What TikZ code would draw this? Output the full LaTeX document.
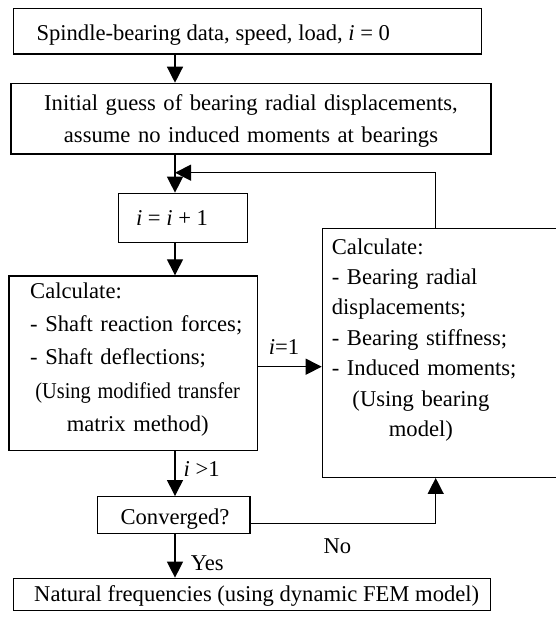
\documentclass[tikz,border=0pt]{standalone}
\usepackage{fontspec}
\usepackage{graphicx}
\setmainfont{Liberation Serif}
\usetikzlibrary{arrows.meta}
\begin{document}
\begin{tikzpicture}[x=1pt,y=-1pt,
  box/.style={draw,line width=1.3pt,inner sep=0pt},
  txt/.style={inner sep=0pt,anchor=base,font=\fontsize{22.6}{31.5}\selectfont},
  arr/.style={line width=1.3pt,-{Triangle[length=16pt,width=16pt]}}]
\useasboundingbox (0,0) rectangle (555,622);
\coordinate (spine) at (175,0);
\coordinate (fbx) at (435.7,172.7);
\coordinate (join) at (175,172.7);
\coordinate (iy) at (0,366.7);
\coordinate (noy) at (0,523.3);
% boxes
\node[box,minimum width=468.4pt,minimum height=45.7pt] (b1) at (247.5,31.2) {};
\node[txt] (t1) at (213.3,40) {Spindle-bearing data, speed, load, \textit{i} = 0};
\node[box,minimum width=480pt,minimum height=70.7pt] (b2) at (251,118.7) {};
\node[txt,text width=480pt,align=center] (t2) at (251,110.5) {Initial guess of bearing radial displacements,\\assume no induced moments at bearings};
\node[box,minimum width=129pt,minimum height=49pt] (b3) at (182.8,217.8) {};
\node[txt] (t3) at (172,225) {\textit{i} = \textit{i} + 1};
\node[box,minimum width=248.3pt,minimum height=174.7pt] (b4) at (133.2,363.3) {};
\node[txt,anchor=base west,text width=215pt,font=\fontsize{22.6}{33.3}\selectfont] (t4) at (30,298.3) {\raggedright Calculate:\\\mbox{- Shaft reaction forces;}\\\mbox{- Shaft deflections;}\par\centering\scalebox{0.9}[1]{(Using modified transfer}\\matrix method)\par};
\node[box,minimum width=237.7pt,minimum height=249pt] (rb) at (441.2,352.8) {};
\node[txt,anchor=base west,text width=178pt,font=\fontsize{22.6}{30.4}\selectfont] (t5) at (331.7,254) {\raggedright Calculate:\\\mbox{- Bearing radial}\\displacements;\\\mbox{- Bearing stiffness;}\\\mbox{- Induced moments;}\par\centering (Using bearing\\model)\par};
\node[box,minimum width=152.7pt,minimum height=37pt] (conv) at (173.7,515.2) {};
\node[txt] (t6) at (175,524) {Converged?};
\node[box,minimum width=477.4pt,minimum height=32.4pt] (fin) at (252,594.5) {};
\node[txt] (t7) at (256.7,601.5) {Natural frequencies (using dynamic FEM model)};
% labels
\node[txt] (l1) at (284,354) {\textit{i}=1};
\node[txt,anchor=base west] (l2) at (183.5,476.7) {\textit{i} >1};
\node[txt,anchor=base west] (l3) at (190.7,570) {Yes};
\node[txt,anchor=base west] (l4) at (323.3,553) {No};
% connectors
\draw[arr] (b1.south -| spine) -- (b2.north -| spine);
\draw[arr] (b2.south -| spine) -- (b3.north -| spine);
\draw[arr] (rb.north -| fbx) |- (join);
\draw[arr] (b3.south -| spine) -- (b4.north -| spine);
\draw[arr] (b4.east |- iy) -- (rb.west |- iy);
\draw[arr] (b4.south -| spine) -- (conv.north -| spine);
\draw[arr] (conv.east |- noy) -| (rb.south -| fbx);
\draw[arr] (conv.south -| spine) -- (fin.north -| spine);
\end{tikzpicture}
\end{document}
